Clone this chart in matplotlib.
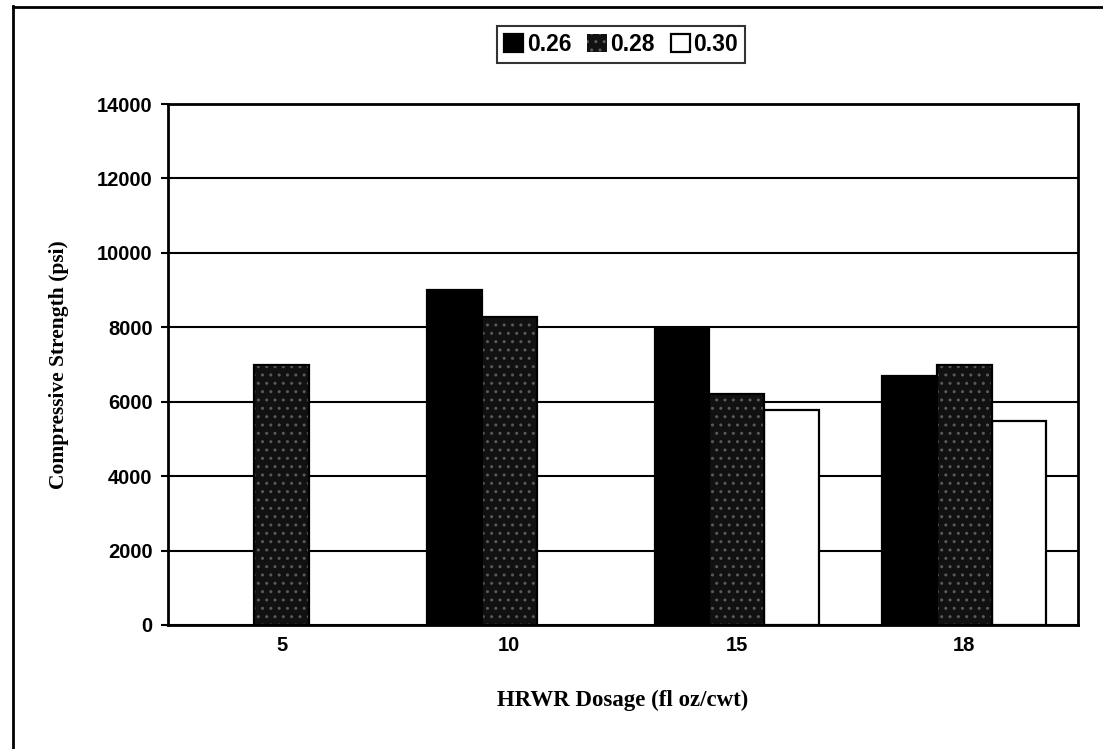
import matplotlib
matplotlib.use("Agg")
import matplotlib.pyplot as plt
from matplotlib.lines import Line2D
import numpy as np

categories = ["5", "10", "15", "18"]
series_labels = ["0.26", "0.28", "0.30"]
vals_026 = [np.nan, 9000, 7980, 6700]
vals_028 = [7000, 8280, 6200, 7000]
vals_030 = [np.nan, np.nan, 5770, 5480]
yticks = [0, 2000, 4000, 6000, 8000, 10000, 12000, 14000]

fig = plt.figure(figsize=(11.03, 7.49), dpi=100)
ax = fig.add_axes([168/1103, 1 - 625/749, 910/1103, 521/749])

x = np.arange(len(categories))
w = 0.24
lw = 1.6

b1 = ax.bar(x - w, vals_026, w, color="black", edgecolor="black", linewidth=lw,
            zorder=3, label=series_labels[0])
b2 = ax.bar(x, vals_028, w, color="#111111", edgecolor="#5a5a5a", hatch="..",
            linewidth=0, zorder=3, label=series_labels[1])
ax.bar(x, vals_028, w, fill=False, edgecolor="black", linewidth=lw, zorder=4)
b3 = ax.bar(x + w, vals_030, w, color="white", edgecolor="black", linewidth=lw,
            zorder=3, label=series_labels[2])

ax.set_xlim(-0.5, len(categories) - 0.5)
ax.set_ylim(0, 14000)
ax.set_yticks(yticks)
ax.set_yticklabels([str(t) for t in yticks], fontsize=14.5, fontweight="bold",
                   family="Liberation Sans")
ax.set_xticks(x)
ax.set_xticklabels(categories, fontsize=14.5, fontweight="bold",
                   family="Liberation Sans")
ax.tick_params(axis="y", direction="out", length=5, width=1.5, pad=6)
ax.tick_params(axis="x", length=0, pad=8)
ax.yaxis.grid(True, color="black", linewidth=1.5, zorder=0)
ax.set_axisbelow(True)
for s in ax.spines.values():
    s.set_linewidth(2)
    s.set_color("black")

ax.set_xlabel("HRWR Dosage (fl oz/cwt)", fontsize=16.5, fontweight="bold",
              family="Liberation Serif", labelpad=25)
ax.set_ylabel("Compressive Strength (psi)", fontsize=15.5, fontweight="bold",
              family="Liberation Serif", labelpad=20)

leg = fig.legend(handles=[b1, b2, b3], labels=series_labels, loc="center",
                 bbox_to_anchor=(621/1103, 1 - 44.5/749), ncol=3, frameon=True,
                 fancybox=False, edgecolor="black", handlelength=0.85,
                 handleheight=0.85, handletextpad=0.15, columnspacing=0.7,
                 borderpad=0.3, prop={"family": "Liberation Sans",
                                      "weight": "bold", "size": 16.5})
leg.get_frame().set_linewidth(1.5)

# outer chart border (left and top)
fig.add_artist(Line2D([13/1103, 13/1103], [0, 1 - 6/749], color="black",
                      linewidth=2, transform=fig.transFigure))
fig.add_artist(Line2D([13/1103, 1], [1 - 7/749, 1 - 7/749], color="black",
                      linewidth=2, transform=fig.transFigure))

fig.savefig("out.png", dpi=100)
